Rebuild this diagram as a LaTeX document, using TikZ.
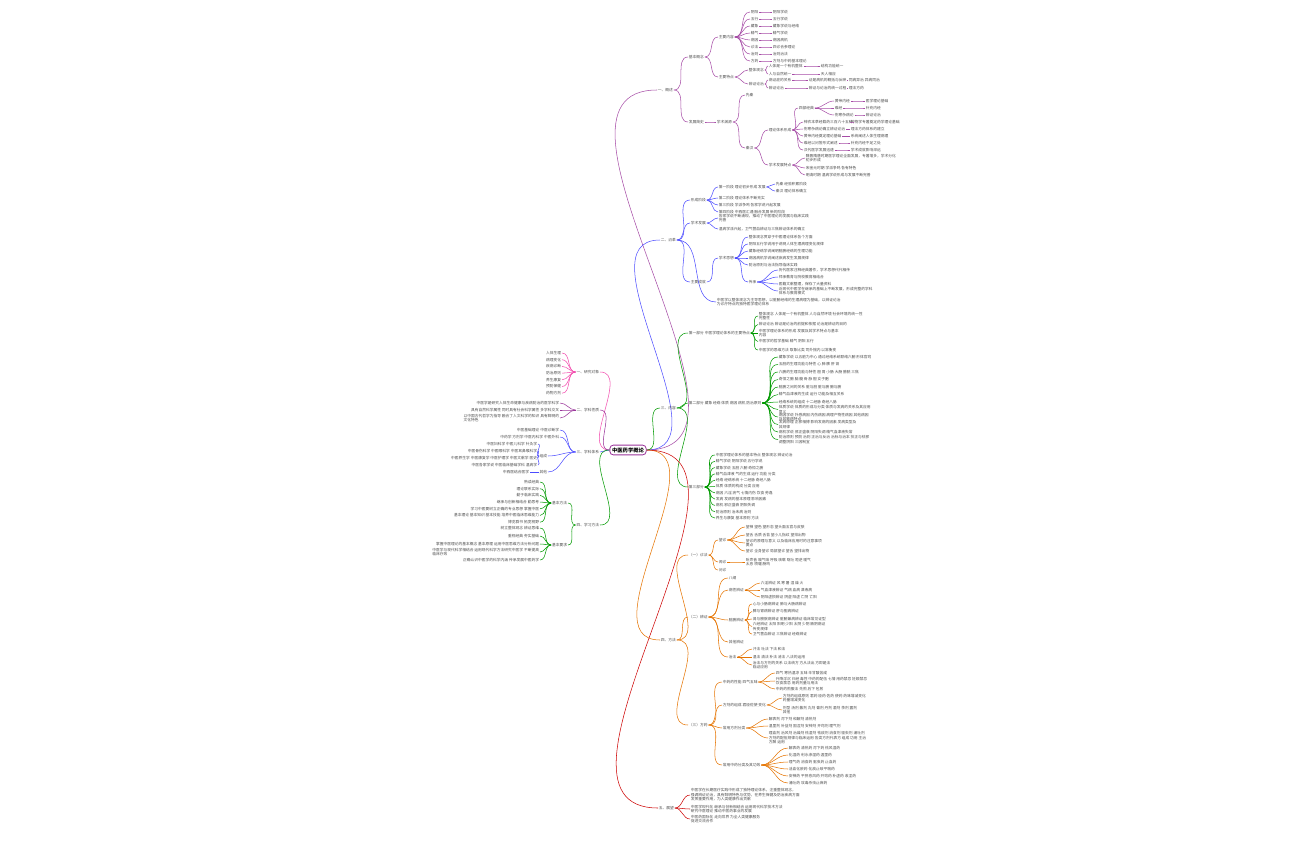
\documentclass[tikz,border=0pt]{standalone}
\usepackage{fontspec}
\setmainfont{Noto Sans CJK SC}
\begin{document}
\begin{tikzpicture}[x=0.03cm,y=-0.03cm,
 lf/.style={inner sep=0.6pt,font=\fontsize{3.2}{3.8}\selectfont,text=black!70,align=left},
 cn/.style={draw=bc,line width=0.45pt}]
\colorlet{bc}{violet}
\useasboundingbox (0,0) rectangle (1296,840);
\newcommand\R[5]{\node[lf,anchor=west] (#2) at (#3,#4) {#5}; \draw[cn] (#1.east) to[out=0,in=180] (#2.west);}
\newcommand\Lf[5]{\node[lf,anchor=east] (#2) at (#3,#4) {#5}; \draw[cn] (#1.west) to[out=180,in=0] (#2.east);}
\node[draw=violet!80,rounded corners=3pt,line width=0.7pt,inner sep=2pt,font=\fontsize{4.5}{5}\selectfont\bfseries] (root) at (628,450) {中医药学概论};
% ===== 1 purple
\colorlet{bc}{violet!70}
\R{root}{a}{657}{90}{一、概述}
\R{a}{a1}{688}{57}{基本概念}
\R{a1}{a11}{718}{37}{主要内容}
\foreach \i/\t/\u in {0/阴阳/阴阳学说,1/五行/五行学说,2/藏象/藏象学说与经络,3/精气/精气学说,4/病因/病因病机,5/诊法/四诊合参理论,6/治则/治则治法,7/方药/方剂与中药基本理论}{
 \R{a11}{a11\i}{750}{12+7*\i}{\t}
 \R{a11\i}{a11\i x}{772}{12+7*\i}{\u}}
\R{a1}{a12}{718}{77}{主要特点}
\R{a12}{a121}{748}{70}{整体观念}
\R{a121}{a1211}{768}{66}{人体是一个有机整体}\R{a1211}{a1211x}{820}{66}{结构功能统一}
\R{a121}{a1212}{768}{74}{人与自然统一}\R{a1212}{a1212x}{820}{74}{天人相应}
\R{a12}{a122}{748}{84}{辨证论治}
\R{a122}{a1221}{768}{80}{病证症的关系}\R{a1221}{a1221x}{808}{80}{证是病机的概括与反映}\R{a1221x}{a1221y}{848}{80}{同病异治 异病同治}
\R{a122}{a1222}{768}{88}{辨证论治}\R{a1222}{a1222x}{808}{88}{辨证与论治的统一过程}\R{a1222x}{a1222y}{848}{88}{理法方药}
\R{a}{a2}{688}{122}{发展简史}
\R{a2}{a21}{716}{122}{学术渊源}
\R{a21}{a211}{745}{95}{先秦}
\R{a21}{a212}{745}{148}{秦汉}
\R{a212}{a2121}{768}{130}{理论体系形成}
\R{a2121}{a21211}{798}{108}{四部经典}
\foreach \i/\t/\u in {0/黄帝内经/医学理论基础,1/难经/补充内经,2/伤寒杂病论/辨证论治}{
 \R{a21211}{b\i}{834}{101+7*\i}{\t}\R{b\i}{b\i x}{865}{101+7*\i}{\u}}
\foreach \i/\t/\u in {0/神农本草经载药三百六十五种/药物学专著奠定药学理论基础,1/伤寒杂病论确立辨证论治/理法方药体系的建立,2/黄帝内经奠定理论基础/系统阐述人体生理病理,3/难经以问答形式阐述/补充内经不足之处,4/汉代医学发展迅速/学术成就影响深远}{
 \R{a2121}{c\i}{803}{122+7*\i}{\t}\R{c\i}{c\i x}{850}{122+7*\i}{\u}}
\R{a212}{a2122}{768}{165}{学术发展特点}
\R{a2122}{d1}{805}{158}{魏晋隋唐时期医学理论全面发展，专著增多，学术分化\\初步形成}
\R{a2122}{d2}{805}{168}{宋金元时期 学派争鸣 各有特色}
\R{a2122}{d3}{805}{175}{明清时期 温病学说形成与发展不断完善}
% ===== 2 blue
\colorlet{bc}{blue!70}
\R{root}{b}{660}{240}{二、沿革}
\R{b}{b1}{690}{200}{形成阶段}
\R{b1}{b11}{718}{187}{第一阶段 理论初步形成 发展}
\R{b11}{b111}{775}{184}{先秦 经验积累阶段}
\R{b11}{b112}{775}{191}{秦汉 理论体系确立}
\R{b1}{b12}{718}{198}{第二阶段 理论体系不断充实}
\R{b1}{b13}{718}{205}{第三阶段 学派争鸣 各家学说兴起发展}
\R{b1}{b14}{718}{212}{第四阶段 中西医汇通 融合发展 新的阶段}
\R{b}{b2}{690}{223}{学术发展}
\R{b2}{b21}{718}{218}{各家学说不断涌现，推动了中医理论的发展与临床实践\\完善}
\R{b2}{b22}{718}{229}{温病学派兴起，卫气营血辨证与三焦辨证体系的确立}
\R{b}{b3}{690}{282}{主要成就}
\R{b3}{b31}{718}{258}{学术思想}
\foreach \i/\t in {0/整体观念贯穿于中医理论体系各个方面,1/阴阳五行学说用于说明人体生理病理变化规律,2/藏象经络学说阐明脏腑经络的生理功能,3/病因病机学说阐述疾病发生发展规律,4/防治原则与治法指导临床实践}{
 \R{b31}{e\i}{748}{237+7*\i}{\t}}
\R{b31}{b32}{748}{282}{传承}
\foreach \i/\t in {0/历代医家注释经典著作，学术思想代代相传,1/师承教育与院校教育相结合,2/医籍文献整理，保存了大量资料,3/近现代中医学在继承的基础上不断发展，形成完整的学科\\体系与教育模式}{
 \R{b32}{f\i}{778}{270+7*\i}{\t}}
\R{b}{b4}{716}{302}{中医学以整体观念为主导思想，以脏腑经络的生理病理为基础，以辨证论治\\为诊疗特点的独特医学理论体系}
% ===== 3 green
\colorlet{bc}{green!60!black}
\R{root}{c}{660}{408}{三、内容}
\R{c}{c1}{688}{333}{第一部分 中医学理论体系的主要特点}
\foreach \i/\t in {0/整体观念 人体是一个有机整体 人与自然环境 社会环境的统一性\\完整性,1/辨证论治 辨证是论治的前提和依据 论治是辨证的目的,2/中医学理论体系的形成 发展及其学术特点与基本\\内容,3/中医学的哲学基础 精气 阴阳 五行,4/中医学的思维方法 取象比类 司外揣内 以常衡变}{
 \R{c1}{g\i}{758}{316+8.5*\i}{\t}}
\R{c}{c2}{688}{403}{第二部分 藏象 经络 体质 病因 病机 防治原则}
\foreach \i/\t in {0/藏象学说 以五脏为中心 通过经络系统联络六腑 形体官窍,1/五脏的生理功能与特性 心 肺 脾 肝 肾,2/六腑的生理功能与特性 胆 胃 小肠 大肠 膀胱 三焦,3/奇恒之腑 脑 髓 骨 脉 胆 女子胞,4/脏腑之间的关系 脏与脏 脏与腑 腑与腑,5/精气血津液的生成 运行 功能及相互关系,6/经络系统的组成 十二经脉 奇经八脉,7/体质学说 体质的形成与分类 体质与发病的关系及其应用\\意义,8/病因学说 外感病因 内伤病因 病理产物性病因 其他病因\\及其致病特点,9/发病原理 正邪相搏 影响发病的因素 发病类型及\\其规律,10/病机学说 邪正盛衰 阴阳失调 精气血津液失常,11/防治原则 预防 治则 正治与反治 治标与治本 扶正与祛邪\\调整阴阳 三因制宜}{
 \R{c2}{h\i}{778}{357+7.5*\i}{\t}}
\R{c}{c3}{688}{487}{第三部分}
\foreach \i/\t in {0/中医学理论体系的基本特点 整体观念 辨证论治,1/精气学说 阴阳学说 五行学说,2/藏象学说 五脏 六腑 奇恒之腑,3/精气血津液 气的生成 运行 功能 分类,4/经络 经络系统 十二经脉 奇经八脉,5/体质 体质的构成 分类 应用,6/病因 六淫 疠气 七情内伤 饮食 劳逸,7/发病 发病的基本原理 影响因素,8/病机 邪正盛衰 阴阳失调,9/防治原则 治未病 治则,10/养生与康复 基本原则 方法}{
 \R{c3}{k\i}{715}{455+6.3*\i}{\t}}
% ===== 4 orange
\colorlet{bc}{orange!90!black}
\R{root}{o}{660}{640}{四、方法}
\R{o}{o1}{688}{555}{（一）诊法}
\R{o1}{o11}{718}{540}{望诊}
\foreach \i/\t in {0/望神 望色 望形态 望头面五官与皮肤,1/望舌 舌质 舌苔 望小儿指纹 望排出物,2/望诊的原理与意义 以及临床应用时的注意事项\\要点,3/望诊 全身望诊 局部望诊 望舌 望排出物}{
 \R{o11}{m\i}{745}{527+8*\i}{\t}}
\R{o1}{o12}{718}{562}{闻诊}\R{o12}{o121}{745}{562}{听声音 嗅气味 呼吸 咳嗽 呕吐 呃逆 嗳气\\太息 喷嚏 肠鸣}
\R{o1}{o13}{718}{570}{问诊}
\R{o}{o2}{688}{617}{（二）辨证}
\R{o2}{o21}{728}{578}{八纲}
\R{o2}{o22}{728}{590}{病性辨证}
\foreach \i/\t in {0/六淫辨证 风 寒 暑 湿 燥 火,1/气血津液辨证 气病 血病 津液病,2/阴阳虚损辨证 阴虚 阳虚 亡阴 亡阳}{
 \R{o22}{p\i}{760}{583+7*\i}{\t}}
\R{o2}{o23}{728}{620}{脏腑辨证}
\foreach \i/\t in {0/心与小肠病辨证 肺与大肠病辨证,1/脾与胃病辨证 肝与胆病辨证,2/肾与膀胱病辨证 脏腑兼病辨证 临床常见证型,3/六经辨证 太阳 阳明 少阳 太阴 少阴 厥阴病证\\传变规律,4/卫气营血辨证 三焦辨证 经络辨证}{
 \R{o23}{q\i}{752}{604+7.5*\i}{\t}}
\R{o2}{o24}{728}{642}{其他辨证}
\R{o2}{o25}{728}{657}{治法}
\foreach \i/\t in {0/汗法 吐法 下法 和法,1/温法 清法 补法 消法 八法的运用,2/治法与方剂的关系 以法统方 方从法出 方即是法\\临证应用}{
 \R{o25}{r\i}{752}{649+8*\i}{\t}}
\R{o}{o3}{688}{725}{（三）方药}
\R{o3}{o31}{722}{682}{中药的性能 四气五味}
\foreach \i/\t in {0/四气 寒热温凉 五味 辛甘酸苦咸,1/升降浮沉 归经 毒性 中药的配伍 七情 用药禁忌 妊娠禁忌\\饮食禁忌 用药剂量与用法,2/中药的煎服法 先煎 后下 包煎}{
 \R{o31}{s\i}{775}{673+8*\i}{\t}}
\R{o3}{o32}{722}{705}{方剂的组成 君臣佐使 变化}
\R{o32}{t0}{782}{698}{方剂的组成原则 君药 臣药 佐药 使药 药味增减变化\\药量增减变化}
\R{o32}{t1}{782}{710}{剂型 汤剂 散剂 丸剂 膏剂 丹剂 酒剂 茶剂 露剂\\其他}
\R{o3}{o33}{722}{728}{常用方剂分类}
\R{o33}{u0}{768}{719}{解表剂 泻下剂 和解剂 清热剂}
\R{o33}{u1}{768}{726}{温里剂 补益剂 固涩剂 安神剂 开窍剂 理气剂}
\R{o33}{u2}{768}{738}{理血剂 治风剂 治燥剂 祛湿剂 祛痰剂 消食剂 驱虫剂 涌吐剂\\方剂的配伍规律与临床运用 各类方剂代表方 组成 功用 主治\\方解 运用}
\R{o3}{o34}{722}{765}{常用中药分类及其功效}
\foreach \i/\t in {0/解表药 清热药 泻下药 祛风湿药,1/化湿药 利水渗湿药 温里药,2/理气药 消食药 驱虫药 止血药,3/活血化瘀药 化痰止咳平喘药,4/安神药 平肝息风药 开窍药 补虚药 收涩药,5/涌吐药 攻毒杀虫止痒药}{
 \R{o34}{v\i}{788}{748+7*\i}{\t}}
% ===== 5 red
\colorlet{bc}{red!80!black}
\R{root}{r}{658}{808}{五、展望}
\R{r}{r1}{690}{795}{中医学在长期医疗实践中形成了独特理论体系，注重整体观念，\\强调辨证论治，具有鲜明特色与优势，在养生保健及防治疾病方面\\发挥重要作用，为人类健康作出贡献}
\R{r}{r2}{690}{809}{中医学现代化 继承与创新相结合 运用现代科学技术方法\\研究中医理论 推动中医药事业的发展}
\R{r}{r3}{690}{819}{中医药国际化 走向世界 为全人类健康服务\\促进交流合作}
% ===== left pink
\colorlet{bc}{magenta!70}
\Lf{root}{L1}{600}{372}{一、研究对象}
\foreach \i/\t in {0/人体生理,1/病理变化,2/疾病诊断,3/防治原则,4/养生康复,5/预防保健,6/药物方剂}{
 \Lf{L1}{w\i}{562}{353+6.7*\i}{\t}}
\colorlet{bc}{violet!80}
\Lf{root}{L2}{600}{410}{二、学科性质}
\Lf{L2}{x0}{560}{403}{中医学是研究人体生命健康与疾病防治的医学科学}
\Lf{L2}{x1}{560}{410}{具有自然科学属性 同时具有社会科学属性 多学科交叉}
\Lf{L2}{x2}{560}{418}{以中国古代哲学为指导 融合了人文科学的知识 具有鲜明的\\文化特色}
\colorlet{bc}{blue!70}
\Lf{root}{L3}{600}{452}{三、学科体系}
\Lf{L3}{y0}{560}{430}{中医基础理论 中医诊断学}
\Lf{L3}{y1}{560}{437}{中药学 方剂学 中医内科学 中医外科}
\Lf{L3}{y2}{548}{456}{组成}
\foreach \i/\t in {0/中医妇科学 中医儿科学 针灸学,1/中医骨伤科学 中医眼科学 中医耳鼻喉科学,2/中医养生学 中医康复学 中医护理学 中医文献学 医史,3/中医各家学说 中医临床基础学科 温病学}{
 \Lf{y2}{z\i}{538}{444+7*\i}{\t}}
\Lf{L3}{y3}{548}{472}{其他}\Lf{y3}{y31}{530}{472}{中西医结合医学}
\colorlet{bc}{green!60!black}
\Lf{root}{L4}{600}{525}{四、学习方法}
\Lf{L4}{L41}{568}{503}{基本方法}
\foreach \i/\t in {0/熟读经典,1/理论联系实际,2/勤于临床实践,3/继承与创新相结合 勤思考,4/学习中医要树立正确的专业思想 掌握中医,5/基本理论 基本知识 基本技能 培养中医临床思维能力,6/博览群书 拓宽视野}{
 \Lf{L41}{aa\i}{540}{482+6.7*\i}{\t}}
\Lf{L4}{L42}{568}{545}{基本要求}
\foreach \i/\t in {0/树立整体观念 辨证思维,1/重视经典 夯实基础,2/掌握中医理论的基本概念 基本原理 运用中医思维方法分析问题,3/中医学与现代科学相结合 运用现代科学方法研究中医学 不断提高\\临床疗效,4/正确认识中医学的科学内涵 传承发展中医药学}{
 \Lf{L42}{bb\i}{540}{528+8*\i}{\t}}
\end{tikzpicture}
\end{document}
